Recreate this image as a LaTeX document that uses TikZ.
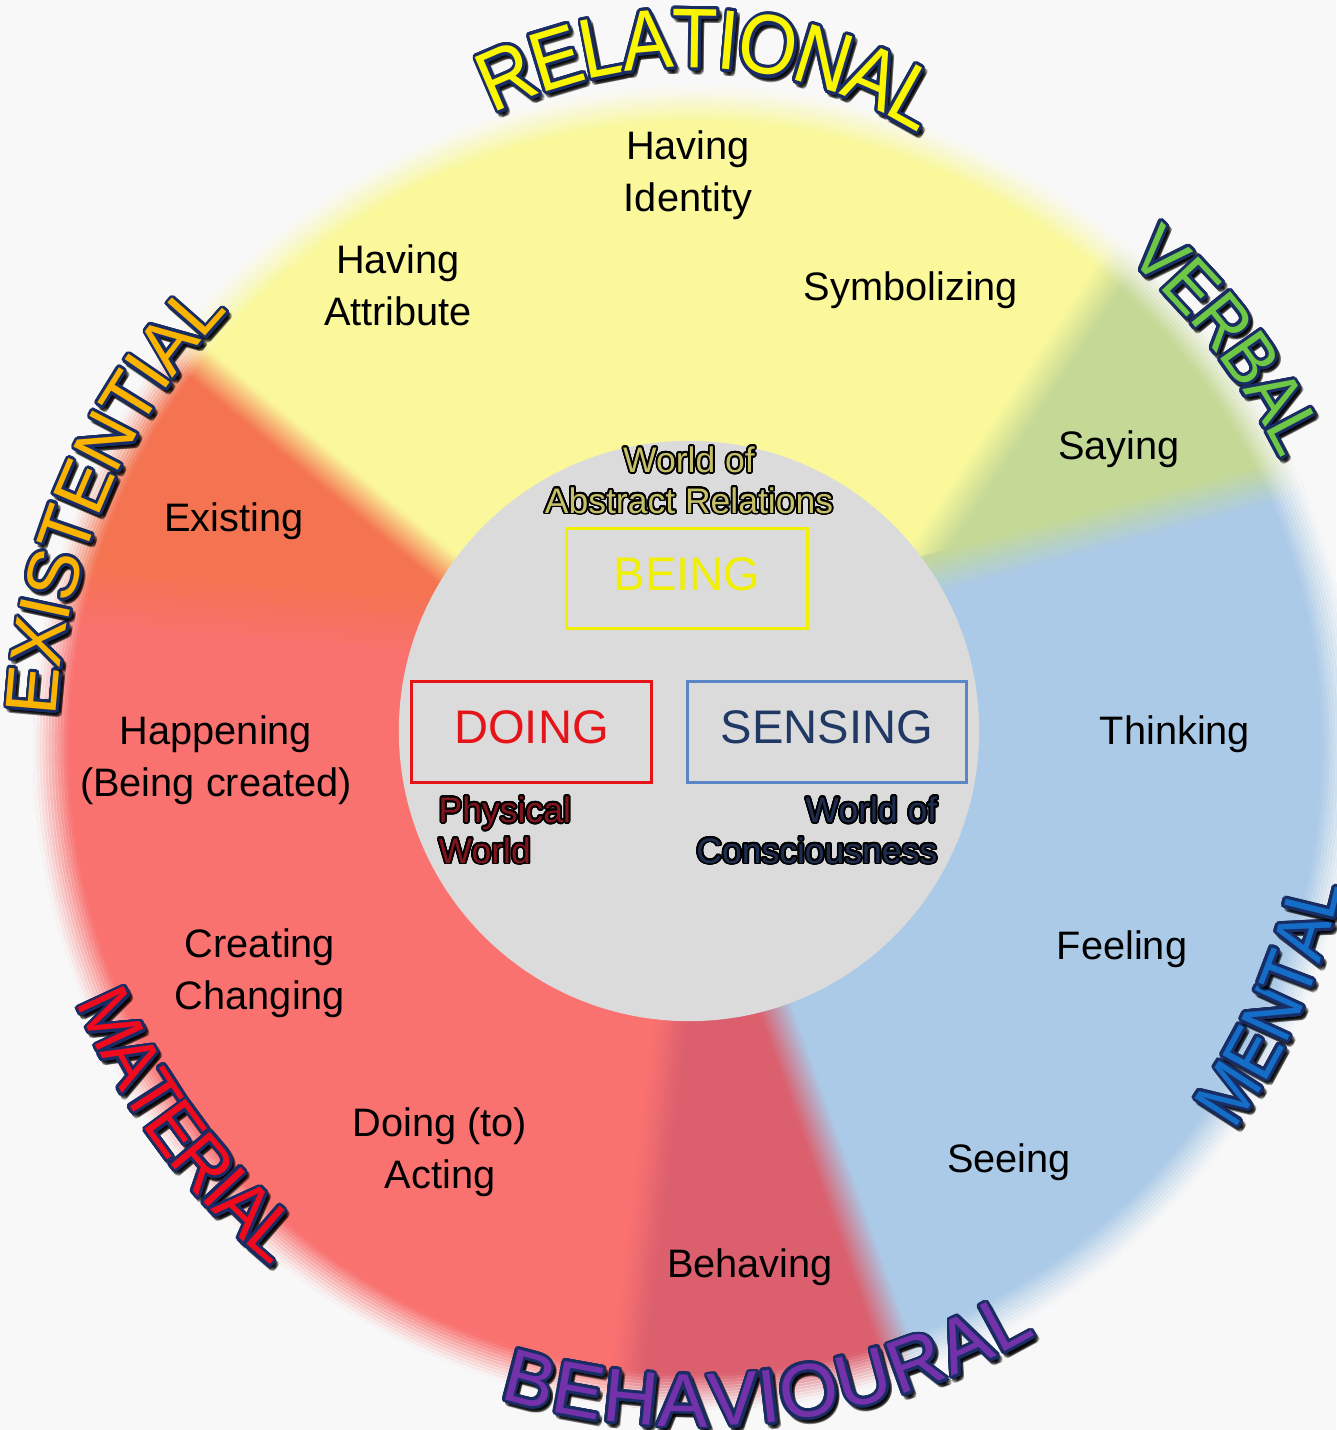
\documentclass[tikz,border=0pt]{standalone}
\usepackage{fontspec}
\setmainfont{Liberation Sans}
\usepackage[copies]{contour}
\contournumber{24}

% palette
\definecolor{bgc}{RGB}{248,248,248}
\definecolor{relc}{RGB}{250,248,155}
\definecolor{verc}{RGB}{197,217,150}
\definecolor{menc}{RGB}{171,202,231}
\definecolor{behc}{RGB}{220,95,110}
\definecolor{matc}{RGB}{249,114,112}
\definecolor{exic}{RGB}{244,115,80}
\definecolor{corec}{RGB}{220,219,219}
\definecolor{arcline}{RGB}{25,45,100}
\definecolor{relfill}{RGB}{250,245,0}
\definecolor{verfill}{RGB}{110,200,70}
\definecolor{exifill}{RGB}{250,180,0}
\definecolor{matfill}{RGB}{240,10,30}
\definecolor{behfill}{RGB}{115,50,170}
\definecolor{menfill}{RGB}{20,110,200}
\definecolor{beingc}{RGB}{240,240,0}
\definecolor{doingc}{RGB}{228,20,25}
\definecolor{sensbox}{RGB}{90,134,200}
\definecolor{senstext}{RGB}{31,56,100}
\definecolor{abstrc}{RGB}{198,192,105}
\definecolor{physc}{RGB}{130,20,30}
\definecolor{consc}{RGB}{30,45,80}

\tikzset{
  body/.style={font=\fontsize{11.3}{14.8}\selectfont, align=center, inner sep=0pt},
  kindbox/.style={draw, line width=0.85pt, minimum width=#1, minimum height=1.0cm,
    inner sep=0pt, text depth=2.8pt, font=\fontsize{13.4}{16}\selectfont},
  worldlabel/.style={font=\fontsize{10.1}{11.6}\selectfont, inner sep=0pt},
  arcshadow/.style={text=black, opacity=0.2, inner sep=0pt},
  arcletter/.style={inner sep=0pt},
  arcform/.style={},
}
\def\awspace{1}

% letters set one by one along a circular arc
% #1,#2 centre, #3 radius, #4 middle angle, #5 +1 clockwise / -1 anticlockwise,
% #6 font size (pt), #7 fill colour, #8 list letter/advance width (1/1000 em)
% \awspace scales the advances, style arcform reshapes each letter
\newcommand\arcword[8]{%
  \gdef\awtot{0}%
  \foreach \ch/\cw in {#8}{\pgfmathsetmacro\awtmp{\awtot+\cw*\awspace}\global\let\awtot\awtmp}%
  \gdef\awacc{0}%
  \foreach \ch/\cw in {#8}{%
    \pgfmathsetmacro\awang{#4-(#5)*(\awacc+0.5*\cw*\awspace-0.5*\awtot)/1000*#6/(#3*0.284528)*57.29578}%
    \pgfmathsetmacro\awrot{\awang-(#5)*90}%
    \node[arcshadow, font=\fontsize{#6}{#6}\selectfont, rotate=\awrot, arcform]
      at ({#1+#3*cos(\awang)+3},{#2+#3*sin(\awang)-4}) {\contourlength{0.8pt}\contour{black}{\ch}};
    \node[arcletter, font=\fontsize{#6}{#6}\selectfont, rotate=\awrot, arcform, text=#7]
      at ({#1+#3*cos(\awang)},{#2+#3*sin(\awang)}) {\contourlength{0.8pt}\contour{arcline}{\ch}};
    \pgfmathsetmacro\awtmp{\awacc+\cw*\awspace}\global\let\awacc\awtmp
  }%
}

% soft seam between two sectors: a band of graded colour along a straight border
% #1 start point, #2 direction, #3 length, #4 half width, #5 colour on the left, #6 colour on the right
\newcommand\seam[6]{%
  \begin{scope}[shift={#1}, rotate=#2-90]
    \foreach \k in {0,...,13}{%
      \pgfmathsetmacro\bx{-#4+2*#4*\k/14}%
      \pgfmathsetmacro\bxx{-#4+2*#4*(\k+1)/14+0.6}%
      \pgfmathsetmacro\bm{100-(\k+0.5)/14*100}%
      \fill[#5!\bm!#6] (\bx,0) rectangle (\bxx,#3);
    }%
  \end{scope}%
}

\begin{document}
\begin{tikzpicture}[x=0.01cm,y=0.01cm]
\useasboundingbox (0,0) rectangle (1336,-1430);
\fill[bgc] (0,0) rectangle (1336,-1430);

% coloured sectors
\fill[verc] (912,-578) -- ([shift={(695,-748)}]24.6:662) arc[start angle=24.6,end angle=49,radius=662] -- cycle;
\fill[relc] (843,-679.5) -- ([shift={(695,-748)}]49:662) arc[start angle=49,end angle=142.1,radius=662] -- (648,-735.8) -- cycle;
\fill[exic] (524.7,-633.4) -- ([shift={(695,-748)}]142.1:662) arc[start angle=142.1,end angle=166.45,radius=662] -- cycle;
\fill[matc] (670.4,-645) -- ([shift={(695,-748)}]166.45:662) arc[start angle=166.45,end angle=263.85,radius=662] -- (699,-794) -- cycle;
\fill[behc] (699,-794) -- ([shift={(695,-748)}]263.85:662) arc[start angle=263.85,end angle=288.6,radius=662] -- cycle;
\fill[menc] (699,-794) -- ([shift={(695,-748)}]288.6:662) arc[start angle=288.6,end angle=384.6,radius=662] -- (780.5,-615) -- cycle;

% blurred borders between sectors
\begin{scope}
  \clip (695,-748) circle[radius=662];
  \seam{(843,-679.5)}{56.6}{560}{17}{relc}{verc}
  \seam{(780.5,-615)}{15.1}{620}{20}{verc}{menc}
  \seam{(699,-794)}{-70.4}{650}{17}{menc}{behc}
  \seam{(699,-794)}{263}{650}{17}{behc}{matc}
  \seam{(524.7,-633.4)}{175.4}{520}{34}{matc}{exic}
  \seam{(524.7,-633.4)}{140.3}{500}{17}{exic}{relc}
\end{scope}

% blurred rim of the wheel
\foreach \k in {0,...,11}{
  \pgfmathsetmacro\rr{627.5+3*\k}
  \pgfmathsetmacro\op{(\k+0.5)/12}
  \draw[bgc, opacity=\op, line width=1.0pt] (695,-748) circle[radius=\rr];
}

% central disc
\node (core) [circle, fill=corec, minimum size=5.8cm, inner sep=0pt] at (689,-731) {};

% kinds of experience
\node (being) [kindbox=2.4cm, draw=beingc, text=beingc] at (687,-578.5) {BEING};
\node (doing) [kindbox=2.39cm, draw=doingc, text=doingc] at (531.5,-732) {DOING};
\node (sensing) [kindbox=2.78cm, draw=sensbox, text=senstext] at (827,-732) {SENSING};

\node (abstract) [worldlabel, align=center, text=abstrc] at (689,-481)
  {\contourlength{0.5pt}\contour{black}{World of}\\\contourlength{0.5pt}\contour{black}{Abstract Relations}};
\node (physical) [worldlabel, align=left, anchor=west, text=physc] at (438,-831)
  {\contourlength{0.5pt}\contour{black}{Physical}\\\contourlength{0.5pt}\contour{black}{World}};
\node (conscious) [worldlabel, align=right, anchor=east, text=consc] at (938,-831)
  {\contourlength{0.5pt}\contour{black}{World of}\\\contourlength{0.5pt}\contour{black}{Consciousness}};

% process types
\node (identity) [body] at (688,-175) {Having\\Identity};
\node (attribute) [body] at (398,-285) {Having\\Attribute};
\node (symbol) [body] at (911,-290) {Symbolizing};
\node (saying) [body] at (1119,-449) {Saying};
\node (existing) [body] at (234,-521) {Existing};
\node (thinking) [body] at (1175,-734) {Thinking};
\node (happening) [body] at (216,-760) {Happening\\(Being created)};
\node (feeling) [body] at (1122,-949) {Feeling};
\node (creating) [body] at (260,-973) {Creating\\Changing};
\node (acting) [body] at (440,-1152) {Doing (to)\\Acting};
\node (seeing) [body] at (1009,-1162) {Seeing};
\node (behaving) [body] at (750,-1267) {Behaving};

% curved headings
\tikzset{arcform/.style={yscale=1.12}}
\arcword{689}{-501}{461}{87.4}{1}{21.5}{relfill}{R/722,E/667,L/556,A/667,T/611,I/278,O/778,N/722,A/667,L/556}
\tikzset{arcform/.style={yscale=1.08}}
\arcword{695}{-748}{677}{37.4}{1}{19}{verfill}{V/667,E/667,R/722,B/667,A/667,L/556}
\tikzset{arcform/.style={}}
\arcword{695}{-748}{663}{157}{1}{20.7}{exifill}{E/667,X/667,I/278,S/667,T/611,E/667,N/722,T/611,I/278,A/667,L/556}
\def\awspace{0.95}
\tikzset{arcform/.style={yscale=1.1}}
\arcword{695}{-748}{637}{-23.7}{-1}{19}{menfill}{M/833,E/667,N/722,T/611,A/667,L/556}
\def\awspace{1}
\tikzset{arcform/.style={}}
\arcword{695}{-748}{654}{-83.3}{-1}{21.5}{behfill}{B/667,E/667,H/722,A/667,V/667,I/278,O/778,U/722,R/722,A/667,L/556}
\def\awspace{0.9}
\tikzset{arcform/.style={yscale=1.05}}
\arcword{695}{-748}{645}{216.6}{-1}{20}{matfill}{M/833,A/667,T/611,E/667,R/722,I/278,A/667,L/556}
\end{tikzpicture}
\end{document}
